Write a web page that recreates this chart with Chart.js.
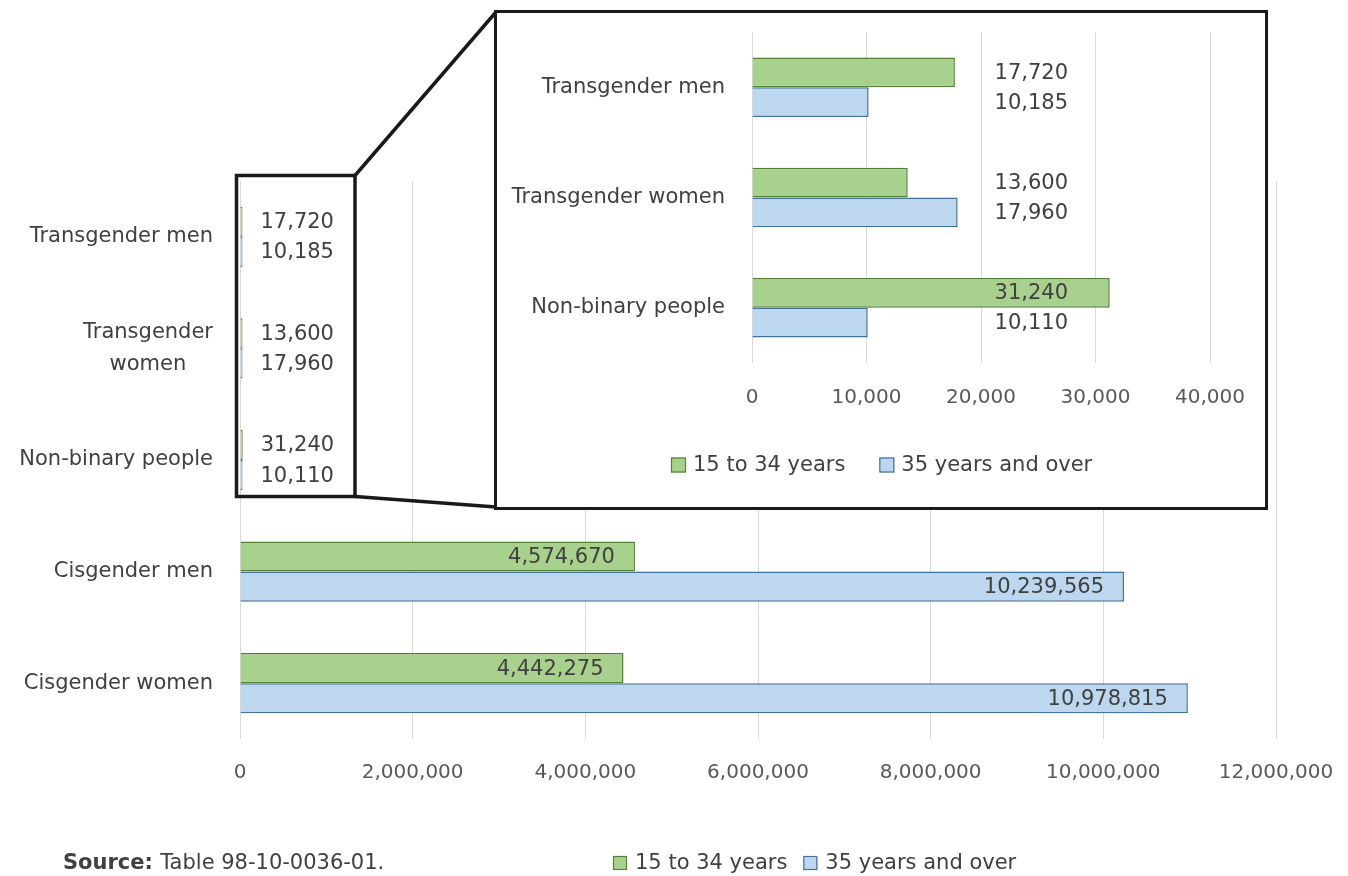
<!DOCTYPE html>
<html><head><meta charset="utf-8">
<script src="https://cdn.jsdelivr.net/npm/chart.js@4.4.0/dist/chart.umd.min.js"></script>
<style>
html,body{margin:0;padding:0;background:#fff;}
#wrap{position:relative;width:1348px;height:876px;overflow:hidden;background:#fff;}
#main{position:absolute;left:0;top:0;}
#insetBox{position:absolute;left:494px;top:10px;width:768px;height:494px;border:3px solid #1a1a1a;background:#fff;}
#inset{position:absolute;left:0;top:0;}
</style></head>
<body>
<div id="wrap">
<canvas id="main" width="1348" height="876"></canvas>
<div id="insetBox"><canvas id="inset" width="768" height="494"></canvas></div>
</div>
<script>
// ---------- data ----------
const categories = ['Transgender men', 'Transgender women', 'Non-binary people', 'Cisgender men', 'Cisgender women'];
const youngValues = [17720, 13600, 31240, 4574670, 4442275];
const olderValues = [10185, 17960, 10110, 10239565, 10978815];
const seriesNames = ['15 to 34 years', '35 years and over'];
const mainTicks = [0, 2000000, 4000000, 6000000, 8000000, 10000000, 12000000];

const insetCategories = ['Transgender men', 'Transgender women', 'Non-binary people'];
const insetYoung = [17720, 13600, 31240];
const insetOlder = [10185, 17960, 10110];
const insetTicks = [0, 10000, 20000, 30000, 40000];

const sourceLabel = 'Source:';
const sourceText = 'Table 98-10-0036-01.';

// ---------- styles ----------
const FONT = "'DejaVu Sans', sans-serif";
const TEXT = '#404040';
const TICK = '#595959';
const GREEN = '#a9d18e', GREEN_B = '#548235';
const BLUE = '#bdd7ee', BLUE_B = '#41719c';
Chart.defaults.font.family = FONT;
Chart.defaults.color = TEXT;

const fmt = v => Number(v).toLocaleString('en-US');

// ---------- plugins ----------
const valueLabels = {
  id: 'valueLabels',
  afterDatasetsDraw(chart, args, opts) {
    const ctx = chart.ctx;
    ctx.save();
    ctx.font = opts.font;
    ctx.fillStyle = opts.color;
    ctx.textBaseline = 'middle';
    chart.data.datasets.forEach((ds, i) => {
      const meta = chart.getDatasetMeta(i);
      meta.data.forEach((bar, j) => {
        const txt = fmt(ds.data[j]);
        const w = ctx.measureText(txt).width;
        let x, align;
        if (opts.anchorValue != null) {
          x = chart.scales.x.getPixelForValue(opts.anchorValue); align = 'right';
        } else if (bar.x - bar.base > w + 2 * opts.inside) {
          x = bar.x - opts.inside; align = 'right';
        } else {
          x = bar.x + opts.outside; align = 'left';
        }
        ctx.textAlign = align;
        ctx.fillText(txt, x, bar.y + 1);
      });
    });
    ctx.restore();
  }
};

const boxLegend = {
  id: 'boxLegend',
  afterDraw(chart, args, opts) {
    const ctx = chart.ctx;
    ctx.save();
    ctx.font = opts.font;
    ctx.textBaseline = 'middle';
    ctx.textAlign = 'left';
    let x = opts.x;
    const y = opts.y;
    chart.data.datasets.forEach(ds => {
      ctx.fillStyle = ds.backgroundColor;
      ctx.fillRect(x, y - opts.box / 2, opts.box, opts.box);
      ctx.strokeStyle = ds.borderColor;
      ctx.lineWidth = 1.2;
      ctx.strokeRect(x + 0.5, y - opts.box / 2 + 0.5, opts.box - 1, opts.box - 1);
      x += opts.box + opts.textGap;
      ctx.fillStyle = opts.color;
      ctx.fillText(ds.label, x, y + 1);
      x += ctx.measureText(ds.label).width + opts.itemGap;
    });
    if (opts.source) {
      ctx.fillStyle = opts.color;
      ctx.font = 'bold ' + opts.font;
      ctx.fillText(opts.source[0], opts.source[2], y + 1);
      const bw = ctx.measureText(opts.source[0] + ' ').width;
      ctx.font = opts.font;
      ctx.fillText(opts.source[1], opts.source[2] + bw, y + 1);
    }
    ctx.restore();
  }
};

const zoomFrame = {
  id: 'zoomFrame',
  afterDraw(chart, args, opts) {
    const ctx = chart.ctx;
    ctx.save();
    ctx.strokeStyle = '#1a1a1a';
    ctx.lineWidth = 3.5;
    const b = opts.small, t = opts.big;
    ctx.strokeRect(b.l, b.t, b.r - b.l, b.b - b.t);
    ctx.beginPath();
    ctx.moveTo(b.r, b.t); ctx.lineTo(t.l, t.t);
    ctx.moveTo(b.r, b.b); ctx.lineTo(t.l, t.b);
    ctx.stroke();
    ctx.restore();
  }
};

function makeDatasets(a, b, minLen) {
  return [
    { label: seriesNames[0], data: a, backgroundColor: GREEN, borderColor: GREEN_B, borderWidth: 1.5,
      categoryPercentage: 0.54, barPercentage: 1.0, minBarLength: minLen },
    { label: seriesNames[1], data: b, backgroundColor: BLUE, borderColor: BLUE_B, borderWidth: 1.5,
      categoryPercentage: 0.54, barPercentage: 1.0, minBarLength: minLen }
  ];
}

function xScale(ticks, areaH, pad) {
  return {
    type: 'linear', min: ticks[0], max: ticks[ticks.length - 1],
    afterBuildTicks: s => { s.ticks = ticks.map(v => ({ value: v })); },
    afterFit: s => { s.height = areaH; s.paddingLeft = 0; s.paddingRight = 0; },
    grid: { color: '#d9d9d9', lineWidth: 1, drawTicks: false },
    border: { display: false },
    ticks: { color: TICK, font: { size: 20 }, padding: pad, maxRotation: 0, autoSkip: false,
      callback: v => fmt(v) }
  };
}

function yScale(width, fontSize, cb) {
  const s = {
    afterFit: sc => { sc.width = width; sc.paddingTop = 0; sc.paddingBottom = 0; },
    grid: { display: false, drawTicks: false },
    border: { display: false },
    ticks: { color: TEXT, font: { size: fontSize, lineHeight: 1.5 }, padding: 27 }
  };
  if (cb) s.ticks.callback = cb;
  return s;
}

// ---------- main chart ----------
new Chart(document.getElementById('main'), {
  type: 'bar',
  data: { labels: categories, datasets: makeDatasets(youngValues, olderValues, 2.5) },
  options: {
    indexAxis: 'y', responsive: false, animation: false,
    layout: { padding: { left: 0, right: 72, top: 181, bottom: 77 } },
    scales: {
      x: xScale(mainTicks, 60, 22),
      y: yScale(240, 21, function (v) {
        const l = this.getLabelForValue(v);
        return l === 'Transgender women' ? ['Transgender', 'women    '] : l;
      })
    },
    plugins: {
      legend: { display: false }, tooltip: { enabled: false },
      valueLabels: { font: '21px ' + FONT, color: TEXT, inside: 20, outside: 18 },
      boxLegend: { font: '21px ' + FONT, color: TEXT, x: 613, y: 863, box: 14, textGap: 8, itemGap: 16,
        source: [sourceLabel, sourceText, 63] },
      zoomFrame: { small: { l: 236.5, t: 175.5, r: 355, b: 496.5 }, big: { l: 496, t: 12, b: 507 } }
    }
  },
  plugins: [valueLabels, boxLegend, zoomFrame]
});

// ---------- inset chart ----------
new Chart(document.getElementById('inset'), {
  type: 'bar',
  data: { labels: insetCategories, datasets: makeDatasets(insetYoung, insetOlder, 0) },
  options: {
    indexAxis: 'y', responsive: false, animation: false,
    layout: { padding: { left: 0, right: 55, top: 19, bottom: 94 } },
    scales: {
      x: xScale(insetTicks, 50, 23),
      y: yScale(255, 21)
    },
    plugins: {
      legend: { display: false }, tooltip: { enabled: false },
      valueLabels: { font: '21px ' + FONT, color: TEXT, anchorValue: 27600 },
      boxLegend: { font: '21px ' + FONT, color: TEXT, x: 174, y: 452, box: 15, textGap: 7, itemGap: 34 }
    }
  },
  plugins: [valueLabels, boxLegend]
});
</script>
</body></html>
